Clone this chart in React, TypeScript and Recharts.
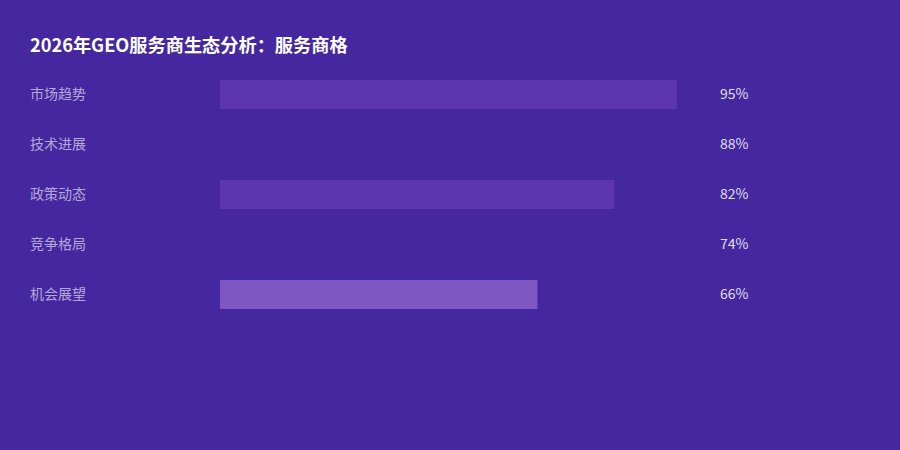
import { BarChart, Bar, XAxis, YAxis, Cell, LabelList } from 'recharts';

// 服务商格 rows
const categories = ['市场趋势', '技术进展', '政策动态', '竞争格局', '机会展望'];
const shares = [95, 88, 82, 74, 66];
const barColors = ['#5E35B1', '#4527A0', '#5E35B1', '#4527A0', '#7E57C2'];

const data = categories.map((name, i) => ({ name, value: shares[i] }));

const font = '"Noto Sans CJK SC", "Noto Sans", sans-serif';

const CategoryTick = (props: any) => {
    const { y, payload } = props;
    return (
        <text x={30} y={y} dy={4.5} textAnchor="start" fill="rgba(255,255,255,0.6)" fontSize={14} fontFamily={font}>
            {payload.value}
        </text>
    );
};

const ValueLabel = (props: any) => {
    const { y, height, value } = props;
    return (
        <text x={720} y={y + height / 2} dy={4.5} textAnchor="start" fill="rgba(255,255,255,0.85)" fontSize={14} fontFamily={font}>
            {value}%
        </text>
    );
};

export default function App() {
    return (
        <div style={{ position: 'absolute', left: 0, top: 0, width: 900, height: 450, background: '#4527A0', fontFamily: font }}>
            <div style={{ position: 'absolute', left: 30, top: 31, color: '#fff', fontSize: 18.2, fontWeight: 700, lineHeight: '26px' }}>
                2026年GEO服务商生态分析：服务商格
            </div>
            <BarChart
                width={900}
                height={450}
                data={data}
                layout="vertical"
                margin={{ top: 69, right: 199, left: 0, bottom: 131 }}
            >
                <XAxis type="number" domain={[0, 100]} hide />
                <YAxis
                    type="category"
                    dataKey="name"
                    width={220}
                    axisLine={false}
                    tickLine={false}
                    tick={<CategoryTick />}
                />
                <Bar dataKey="value" barSize={29} isAnimationActive={false}>
                    {data.map((d, i) => (
                        <Cell key={d.name} fill={barColors[i]} />
                    ))}
                    <LabelList dataKey="value" content={<ValueLabel />} />
                </Bar>
            </BarChart>
        </div>
    );
}
